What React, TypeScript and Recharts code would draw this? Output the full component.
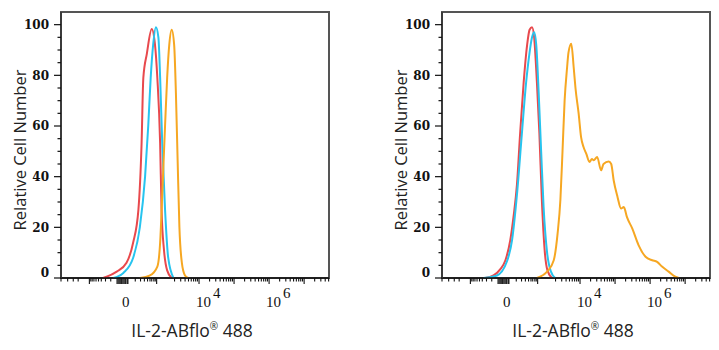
import React from 'react';
import { LineChart, Line, XAxis, YAxis, ReferenceArea } from 'recharts';

// x values are in display decades of the biexponential axis (10^4 -> 4),
// y values are relative cell number (% of mode).
const leftRed = [
  { x: 1.26, y: 0 }, { x: 1.65, y: 2.5 }, { x: 1.93, y: 6 }, { x: 2.12, y: 14 },
  { x: 2.27, y: 27 }, { x: 2.36, y: 53 }, { x: 2.41, y: 79 }, { x: 2.51, y: 88.5 },
  { x: 2.65, y: 98.3 }, { x: 2.74, y: 92.5 }, { x: 2.81, y: 79 }, { x: 2.89, y: 53 },
  { x: 2.93, y: 27 }, { x: 3.0, y: 11 }, { x: 3.09, y: 3 }, { x: 3.22, y: 0 },
];
const leftCyan = [
  { x: 1.55, y: 0 }, { x: 1.84, y: 2 }, { x: 2.12, y: 8 }, { x: 2.31, y: 20 },
  { x: 2.46, y: 40 }, { x: 2.55, y: 60 }, { x: 2.62, y: 79 }, { x: 2.69, y: 92 },
  { x: 2.77, y: 99 }, { x: 2.84, y: 95 }, { x: 2.89, y: 79 }, { x: 2.95, y: 53 },
  { x: 3.03, y: 27 }, { x: 3.12, y: 8 }, { x: 3.27, y: 0 },
];
const leftOrange = [
  { x: 2.31, y: 0 }, { x: 2.6, y: 1 }, { x: 2.81, y: 4.5 }, { x: 2.89, y: 14 },
  { x: 2.95, y: 33 }, { x: 3.03, y: 60 }, { x: 3.09, y: 79 }, { x: 3.15, y: 92 },
  { x: 3.22, y: 98 }, { x: 3.29, y: 92 }, { x: 3.34, y: 73 }, { x: 3.39, y: 46 },
  { x: 3.44, y: 20 }, { x: 3.51, y: 6 }, { x: 3.6, y: 1 }, { x: 3.69, y: 0 },
];

const rightRed = [
  { x: 1.29, y: 0 }, { x: 1.53, y: 1 }, { x: 1.72, y: 3.4 }, { x: 1.87, y: 7 },
  { x: 2.01, y: 15 }, { x: 2.1, y: 24 }, { x: 2.2, y: 37 }, { x: 2.29, y: 57 },
  { x: 2.39, y: 77 }, { x: 2.49, y: 92 }, { x: 2.56, y: 98 }, { x: 2.63, y: 99 },
  { x: 2.69, y: 95 }, { x: 2.77, y: 77 }, { x: 2.84, y: 57 }, { x: 2.91, y: 31 },
  { x: 2.99, y: 11 }, { x: 3.07, y: 3 }, { x: 3.2, y: 0 },
];
const rightCyan = [
  { x: 1.25, y: 0 }, { x: 1.63, y: 1 }, { x: 1.91, y: 6.4 }, { x: 2.06, y: 15 },
  { x: 2.2, y: 33 }, { x: 2.34, y: 57 }, { x: 2.46, y: 77 }, { x: 2.55, y: 88 },
  { x: 2.63, y: 95 }, { x: 2.69, y: 97 }, { x: 2.75, y: 92 }, { x: 2.82, y: 73 },
  { x: 2.89, y: 50 }, { x: 2.96, y: 28 }, { x: 3.06, y: 10 }, { x: 3.17, y: 2.5 },
  { x: 3.29, y: 0 },
];
const rightOrange = [
  { x: 2.77, y: 0 }, { x: 3.06, y: 2.5 }, { x: 3.25, y: 7 }, { x: 3.36, y: 17.6 },
  { x: 3.44, y: 31 }, { x: 3.5, y: 50 }, { x: 3.56, y: 70 }, { x: 3.63, y: 83 },
  { x: 3.67, y: 89 }, { x: 3.75, y: 92.5 }, { x: 3.82, y: 83 }, { x: 3.87, y: 75 },
  { x: 3.96, y: 65 }, { x: 4.03, y: 55.6 }, { x: 4.1, y: 51.7 }, { x: 4.18, y: 49 },
  { x: 4.27, y: 45.8 }, { x: 4.34, y: 47 }, { x: 4.39, y: 46.5 }, { x: 4.49, y: 47.8 },
  { x: 4.6, y: 42.5 }, { x: 4.67, y: 45 }, { x: 4.82, y: 46 }, { x: 4.89, y: 45 },
  { x: 4.96, y: 38.6 }, { x: 5.07, y: 32 }, { x: 5.17, y: 27.4 }, { x: 5.25, y: 28 },
  { x: 5.34, y: 24 }, { x: 5.49, y: 19.6 }, { x: 5.67, y: 13 }, { x: 5.87, y: 8.4 },
  { x: 6.06, y: 7 }, { x: 6.2, y: 6.4 }, { x: 6.34, y: 4.5 }, { x: 6.53, y: 2.5 },
  { x: 6.72, y: 0.5 }, { x: 6.82, y: 0 },
];

// axis ticks
const yTicks = [0, 5, 10, 15, 20, 25, 30, 35, 40, 45, 50, 55, 60, 65, 70, 75, 80, 85, 90, 95, 100];
const xMajor = [0.87, 2.79, 4, 5, 6, 7];
const xZeroCluster = [1.66, 1.69, 1.72, 1.75, 1.78, 1.8, 1.83, 1.86, 1.89, 1.91, 1.95, 1.97];
const xMinorNearZero = [
  0.06, 0.25, 0.41, 0.55, 0.91, 0.95, 1.0, 1.06, 1.13, 1.21, 1.33, 1.48,
  2.18, 2.33, 2.44, 2.53, 2.6, 2.65, 2.71, 2.75,
];
const xLabels: Record<string, string> = { '1.91': '0', '4': '4', '6': '6' };

const X_DOMAIN = [0.06, 7.71];
const Y_DOMAIN = [0, 105];

const logMinor: number[] = [];
[3, 4, 5, 6, 7].forEach((d) => {
  for (let k = 2; k <= 9; k++) {
    const v = +(d + Math.log10(k)).toFixed(3);
    if (v < X_DOMAIN[1]) logMinor.push(v);
  }
});
const xTicks = [...xMinorNearZero, ...xZeroCluster, ...xMajor, ...logMinor].sort((a, b) => a - b);

const RED = '#e8494d';
const CYAN = '#27c4ef';
const ORANGE = '#f6a722';

const XTick = (props: any) => {
  const { x, y, payload } = props;
  const v = payload.value;
  const big = xMajor.includes(v) || xZeroCluster.includes(v);
  const label = xLabels[String(v)];
  let text = null;
  if (label === '0') {
    text = (
      <text x={x} y={y + 29} textAnchor="middle" fontFamily="Liberation Serif" fontSize={15} fill="#111">
        0
      </text>
    );
  } else if (label) {
    text = (
      <text x={x - 3} y={y + 29} fontFamily="Liberation Serif" fontSize={15} fill="#111">
        10<tspan dx={2} dy={-9}>{label}</tspan>
      </text>
    );
  }
  return (
    <g>
      <line x1={x} x2={x} y1={y} y2={y + (big ? 6 : 3.5)} stroke="#111" strokeWidth={1.1} />
      {text}
    </g>
  );
};

const YTick = (props: any) => {
  const { x, y, payload } = props;
  const v = payload.value;
  const major = v % 20 === 0;
  return (
    <g>
      <line x1={x - (major ? 7 : 3.5)} x2={x} y1={y} y2={y} stroke="#111" strokeWidth={1.2} />
      {major && (
        <text
          x={x - 12}
          y={v === 0 ? y - 5 : y}
          dy="0.36em"
          textAnchor="end"
          fontFamily="DejaVu Serif"
          fontWeight="bold"
          fontSize={12}
          fill="#111"
        >
          {v}
        </text>
      )}
    </g>
  );
};

const XTitle = (props: any) => {
  const vb = props.viewBox || { x: 61, width: 268, y: 278 };
  return (
    <text
      x={vb.x + vb.width / 2 - 3}
      y={vb.y + 59}
      textAnchor="middle"
      fontFamily="Open Sans"
      fontSize={17.5}
      fill="#222"
    >
      IL-2-ABflo<tspan fontSize={10} dy={-7}>®</tspan>
      <tspan dy={7}> 488</tspan>
    </text>
  );
};

const YTitle = () => (
  <text
    x={19}
    y={150}
    transform="rotate(-90, 19, 150)"
    textAnchor="middle"
    dominantBaseline="central"
    fontFamily="Open Sans"
    fontSize={16.5}
    fill="#222"
  >
    Relative Cell Number
  </text>
);

function Histogram({ red, cyan, orange }: { red: any[]; cyan: any[]; orange: any[] }) {
  return (
    <LineChart width={338} height={350} margin={{ top: 12, right: 9, bottom: 32, left: 0 }}>
      <ReferenceArea
        x1={X_DOMAIN[0]}
        x2={X_DOMAIN[1]}
        y1={Y_DOMAIN[0]}
        y2={Y_DOMAIN[1]}
        fill="none"
        fillOpacity={0}
        stroke="#555"
        strokeWidth={2}
        ifOverflow="visible"
      />
      <XAxis
        dataKey="x"
        type="number"
        domain={X_DOMAIN}
        allowDataOverflow
        ticks={xTicks}
        interval={0}
        tickSize={0}
        tickMargin={0}
        tickLine={false}
        tick={<XTick />}
        height={40}
        axisLine={{ stroke: '#111', strokeWidth: 1.5 }}
        label={XTitle}
      />
      <YAxis
        type="number"
        domain={Y_DOMAIN}
        allowDataOverflow
        ticks={yTicks}
        interval={0}
        tickSize={0}
        tickMargin={0}
        tickLine={false}
        tick={<YTick />}
        width={61}
        axisLine={{ stroke: '#333', strokeWidth: 1.5 }}
        label={YTitle}
      />
      <Line data={red} dataKey="y" type="monotone" stroke={RED} strokeWidth={2} dot={false} isAnimationActive={false} />
      <Line data={cyan} dataKey="y" type="monotone" stroke={CYAN} strokeWidth={2} dot={false} isAnimationActive={false} />
      <Line data={orange} dataKey="y" type="monotone" stroke={ORANGE} strokeWidth={2} dot={false} isAnimationActive={false} />
    </LineChart>
  );
}

export default function App() {
  return (
    <div style={{ position: 'absolute', left: 0, top: 0, width: 719, height: 350, background: '#fff' }}>
      <div style={{ position: 'absolute', left: 0, top: 0 }}>
        <Histogram red={leftRed} cyan={leftCyan} orange={leftOrange} />
      </div>
      <div style={{ position: 'absolute', left: 381, top: 0 }}>
        <Histogram red={rightRed} cyan={rightCyan} orange={rightOrange} />
      </div>
    </div>
  );
}
